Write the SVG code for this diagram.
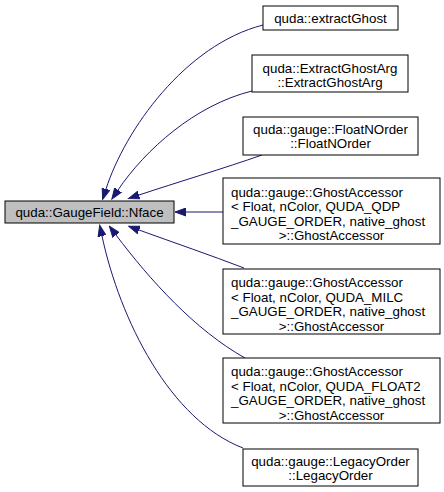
<svg xmlns="http://www.w3.org/2000/svg" width="444" height="492" viewBox="0 0 444 492">
<style>
.node rect{fill:#ffffff;stroke:#000000;stroke-width:1}
.node.main rect{fill:#bfbfbf}
text{font-family:"Liberation Sans",Arial,Helvetica,sans-serif;font-size:13.33px;fill:#000000}
.c{text-anchor:middle}
.edges path{fill:none;stroke:#191970;stroke-width:1;marker-start:url(#arr)}
</style>
<defs>
<marker id="arr" markerUnits="userSpaceOnUse" markerWidth="12" markerHeight="9" refX="0" refY="4" orient="auto-start-reverse" viewBox="0 0 12 8">
<path d="M0,0 L11,4 L0,8 z" fill="#191970" stroke="#191970" stroke-width="1"/>
</marker>
</defs>
<rect x="0" y="0" width="444" height="492" fill="#ffffff"/>
<g class="edges" id="edges">
<path d="M106,189 C125,130 185,45 263,25"/>
<path d="M118,190 C145,150 195,105 252,91"/>
<path d="M139,195 C175,183 225,168 262,155"/>
<path d="M186,212 L223,212"/>
<path d="M139,230 C175,243 210,255 244,268"/>
<path d="M116,235 C150,280 195,330 245,358"/>
<path d="M102,236 C120,320 170,420 243,448"/>
</g>
<g class="node main" id="node_main">
<rect x="5" y="201" width="169" height="22"/>
<text class="c" x="89.5" y="216.5">quda::GaugeField::Nface</text>
</g>
<g class="node" id="node_extractGhost">
<rect x="263" y="6" width="135" height="24"/>
<text class="c" x="330.5" y="22.5">quda::extractGhost</text>
</g>
<g class="node" id="node_ExtractGhostArg">
<rect x="252" y="55" width="156" height="37"/>
<text class="c" x="330" y="72.5">quda::ExtractGhostArg</text>
<text class="c" x="330" y="86.5">::ExtractGhostArg</text>
</g>
<g class="node" id="node_FloatNOrder">
<rect x="243" y="117" width="175" height="38"/>
<text class="c" x="330.5" y="134">quda::gauge::FloatNOrder</text>
<text class="c" x="330.5" y="148">::FloatNOrder</text>
</g>
<g class="node" id="node_GhostAccessor_QDP">
<rect x="223" y="178" width="217" height="66"/>
<text x="231" y="196.5">quda::gauge::GhostAccessor</text>
<text x="231" y="211">&lt; Float, nColor, QUDA_QDP</text>
<text x="231" y="225.5">_GAUGE_ORDER, native_ghost</text>
<text class="c" x="331.5" y="240">&gt;::GhostAccessor</text>
</g>
<g class="node" id="node_GhostAccessor_MILC">
<rect x="223" y="269" width="217" height="65"/>
<text x="231" y="287">quda::gauge::GhostAccessor</text>
<text x="231" y="301.5">&lt; Float, nColor, QUDA_MILC</text>
<text x="231" y="316">_GAUGE_ORDER, native_ghost</text>
<text class="c" x="331.5" y="330.5">&gt;::GhostAccessor</text>
</g>
<g class="node" id="node_GhostAccessor_FLOAT2">
<rect x="223" y="358" width="217" height="65"/>
<text x="231" y="376">quda::gauge::GhostAccessor</text>
<text x="231" y="390.5">&lt; Float, nColor, QUDA_FLOAT2</text>
<text x="231" y="405">_GAUGE_ORDER, native_ghost</text>
<text class="c" x="331.5" y="419.5">&gt;::GhostAccessor</text>
</g>
<g class="node" id="node_LegacyOrder">
<rect x="243" y="449" width="175" height="37"/>
<text class="c" x="330.5" y="466">quda::gauge::LegacyOrder</text>
<text class="c" x="330.5" y="480">::LegacyOrder</text>
</g>
</svg>
